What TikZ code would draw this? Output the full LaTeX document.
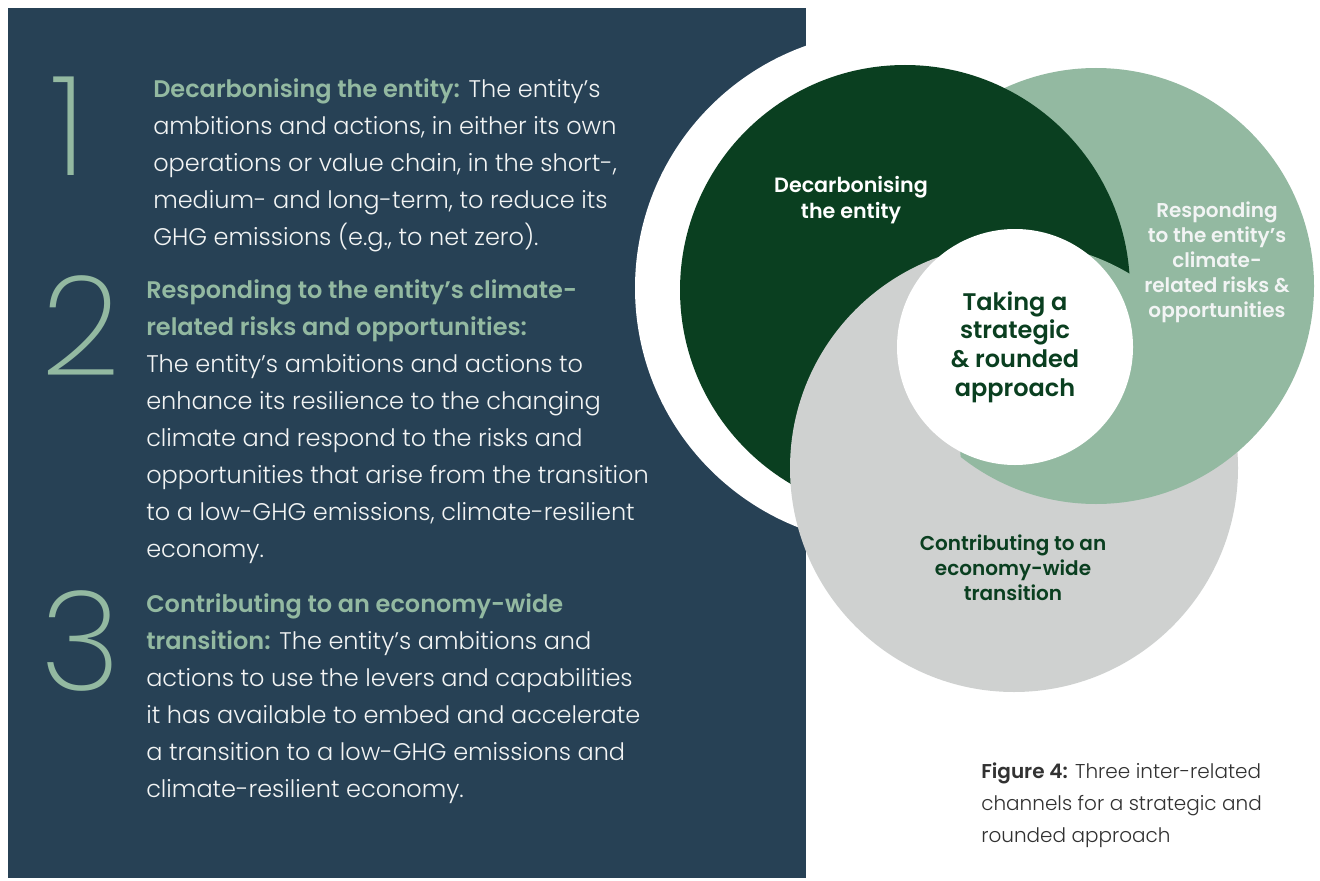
\documentclass[tikz,border=0pt]{standalone}
\usepackage{fontspec}
\setmainfont{Poppins}
\newfontfamily\lightfont{Poppins Light}
\newfontfamily\semifont{Poppins SemiBold}
\newfontfamily\thinfont{Poppins ExtraLight}
\usetikzlibrary{positioning}
\definecolor{panelblue}{RGB}{39,65,85}
\definecolor{sage}{RGB}{147,185,161}
\definecolor{forest}{RGB}{10,63,32}
\definecolor{mist}{RGB}{207,209,208}
\definecolor{offwhite}{RGB}{242,244,244}
\definecolor{captiongrey}{RGB}{50,50,50}
\tikzset{bignum/.style={anchor=base west, inner sep=0pt, text=sage,
           font=\thinfont\fontsize{104}{104}\selectfont},
         bodytext/.style={anchor=base west, align=left, inner sep=0pt, text=offwhite,
           font=\lightfont\fontsize{18}{27.75}\selectfont},
         venntext/.style={align=center, inner sep=0pt,
           font=\semifont\fontsize{15}{18.75}\selectfont}}
\newcommand{\hd}[1]{{\semifont\color{sage}#1}}

\begin{document}
\begin{tikzpicture}[x=0.75pt, y=-0.75pt]

        \useasboundingbox (0,0) rectangle (1320,881);
        \fill[white] (0,0) rectangle (1320,881);
        \fill[panelblue] (8,8) rectangle (806,878);

        % Circles
        \coordinate (ring) at (892,288);
        \coordinate (dg) at (905,290);
        \coordinate (lg) at (1096,286);
        \coordinate (gr) at (1014,468);
        \coordinate (mid) at (1015,347);

        \fill[white] (ring) circle[radius=257];
        \fill[sage] (lg) circle[radius=218];
        \fill[forest] (dg) circle[radius=225];
        \fill[mist] (gr) circle[radius=224];
        % sage lies over grey on the lower right
        \begin{scope}
            \clip (gr) circle[radius=226];
            \clip (929,50) -- (985,770) -- (1320,770) -- (1320,50) -- cycle;
            \fill[sage] (lg) circle[radius=218];
        \end{scope}
        \fill[white] (mid) circle[radius=118];

        % Numbers
        \node[bignum] (n1) at (50,175) {1};
        \node[bignum] (n2) at (41,375) {2};
        \node[bignum] (n3) at (40,690) {3};

        % Left text (anchored at the last baseline)
        \node[bodytext] (t1) at (153,245) {\hd{Decarbonising the entity:} The entity’s\\
            ambitions and actions, in either its own\\
            operations or value chain, in the short-,\\
            medium- and long-term, to reduce its\\
            GHG emissions (e.g., to net zero).};
        \node[bodytext] (t2) at (146,557) {\hd{Responding to the entity’s climate-}\\
            \hd{related risks and opportunities:}\\
            The entity’s ambitions and actions to\\
            enhance its resilience to the changing\\
            climate and respond to the risks and\\
            opportunities that arise from the transition\\
            to a low-GHG emissions, climate-resilient\\
            economy.};
        \node[bodytext] (t3) at (146,797) {\hd{Contributing to an economy-wide}\\
            \hd{transition:} The entity’s ambitions and\\
            actions to use the levers and capabilities\\
            it has available to embed and accelerate\\
            a transition to a low-GHG emissions and\\
            climate-resilient economy.};

        % Circle labels
        \node[venntext, text=white, font=\semifont\fontsize{15.5}{19.5}\selectfont] (decarb) at (851,200)
            {Decarbonising\\the entity};
        \node[venntext, text=offwhite] (respond) at (1217,262)
            {Responding\\to the entity’s\\climate-\\related risks \&\\opportunities};
        \node[venntext, text=forest, font=\semifont\fontsize{18}{21.4}\selectfont] (approach) at (mid)
            {Taking a\\strategic\\\& rounded\\approach};
        \node[venntext, text=forest] (contrib) at (1013,568)
            {Contributing to an\\economy-wide\\transition};

        % Caption
        \node[anchor=base west, align=left, inner sep=0pt, text=captiongrey,
              font=\lightfont\fontsize{15}{24}\selectfont] (caption) at (981,842)
            {{\semifont Figure 4:} Three inter-related\\channels for a strategic and\\rounded approach};

    \end{tikzpicture}
\end{document}
